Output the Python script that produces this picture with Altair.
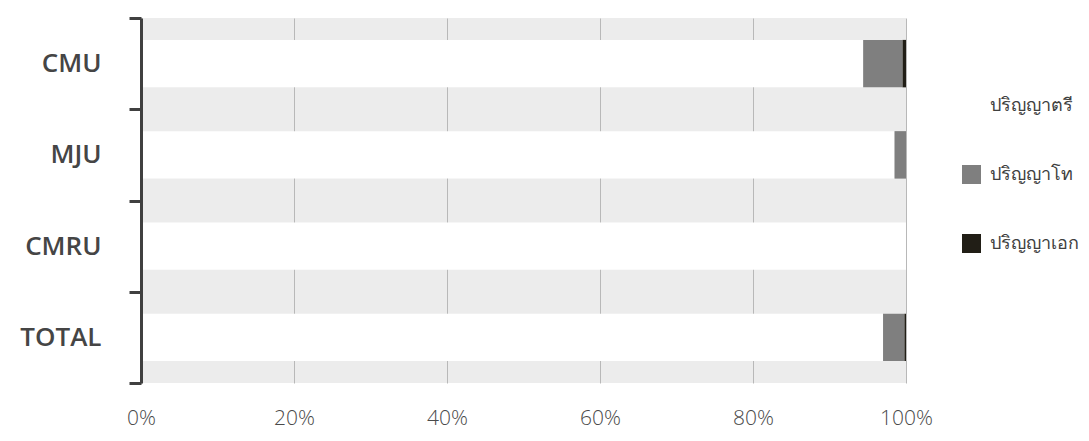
import altair as alt
import pandas as pd

universities = ["CMU", "MJU", "CMRU", "TOTAL"]
levels = ["ปริญญาตรี", "ปริญญาโท", "ปริญญาเอก"]
bachelor = [94.4, 98.5, 100.0, 97.0]
master = [5.15, 1.5, 0.0, 2.8]
doctor = [0.45, 0.0, 0.0, 0.2]
level_colors = ["#ffffff", "#7f7f7f", "#211e16"]

rows = []
for i, u in enumerate(universities):
    for j, (lv, vals) in enumerate(zip(levels, [bachelor, master, doctor])):
        rows.append({"uni": u, "level": lv, "value": vals[i], "ord": j})
df = pd.DataFrame(rows)

chart = alt.Chart(df).mark_bar(strokeWidth=0, height={"band": 0.52}).encode(
    y=alt.Y("uni:N", sort=universities, title=None,
            scale=alt.Scale(paddingInner=0, paddingOuter=0),
            axis=alt.Axis(tickBand="extent", domainColor="#404040", domainWidth=3,
                          tickColor="#404040", tickWidth=3, tickSize=12,
                          labelFontSize=26, labelFont="Open Sans", labelFontWeight=600,
                          labelColor="#454545", labelPadding=28, grid=False, zindex=1)),
    x=alt.X("value:Q", stack="normalize", title=None,
            scale=alt.Scale(domain=[0, 1], nice=False),
            axis=alt.Axis(format="%", values=[0, 0.2, 0.4, 0.6, 0.8, 1.0],
                          domain=False, ticks=False, grid=True, gridColor="#b8b8b8",
                          gridWidth=1, labelFontSize=21, labelFont="Open Sans",
                          labelFontWeight=300, labelColor="#4a4a4a", labelPadding=24,
                          labelFlush=False)),
    color=alt.Color("level:N", sort=levels,
                    scale=alt.Scale(domain=levels, range=level_colors),
                    legend=alt.Legend(title=None, orient="none", legendX=821, legendY=78,
                                      symbolType="square", symbolSize=361,
                                      symbolStrokeWidth=0, labelFontSize=18,
                                      labelFont="Noto Sans", labelColor="#404040",
                                      labelOffset=9, rowPadding=50, labelLimit=200)),
    order=alt.Order("ord:Q"),
).properties(
    width=765, height=365,
    autosize=alt.AutoSizeParams(type="none"),
    padding={"left": 133, "top": 10, "right": 174, "bottom": 50},
    background="#ffffff",
).configure_view(
    fill="#ececec", stroke=None
)

chart.save("out.html", embed_options={"renderer": "svg", "actions": False})
